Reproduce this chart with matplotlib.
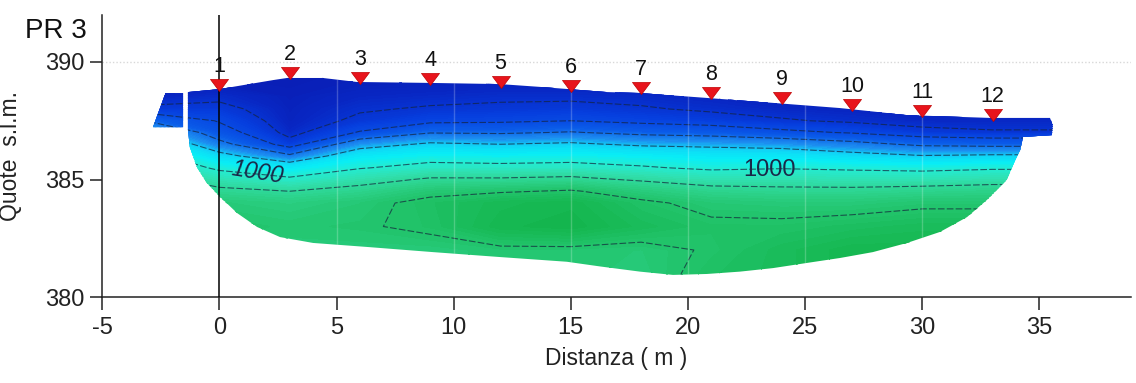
import numpy as np
import matplotlib
matplotlib.use("Agg")
import matplotlib.pyplot as plt
from matplotlib.colors import LinearSegmentedColormap, LogNorm
from matplotlib.path import Path
from matplotlib.patches import PathPatch

plt.rcParams['font.family'] = ['Liberation Sans', 'DejaVu Sans']

# ---------------- data ----------------
TITLE = 'PR 3'
X_LABEL = 'Distanza ( m )'
Y_LABEL = 'Quote  s.l.m.'
X_TICKS = [-5, 0, 5, 10, 15, 20, 25, 30, 35]
Y_TICKS = [380, 385, 390]

STATION_X = [0, 3, 6, 9, 12, 15, 18, 21, 24, 27, 30, 33]
STATION_LABELS = ['1', '2', '3', '4', '5', '6', '7', '8', '9', '10', '11', '12']
STATION_Z = [389.02, 389.53, 389.32, 389.28, 389.15, 388.98,
             388.89, 388.68, 388.47, 388.17, 387.91, 387.74]

# outline of the main section (top surface left->right, then bottom right->left)
SECTION_X = [-1.34, 0.03, 2.29, 2.89, 4.42, 5.87, 8.99, 11.98, 13.69, 16.55,
             17.95, 20.81, 23.63, 26.49, 29.35, 32.89, 35.45, 35.57, 35.53, 34.3,
             34.18, 33.97, 33.6, 33.3, 32.76, 31.91, 30.76, 29.35, 27.89, 26.49,
             25.08, 23.63, 22.22, 20.81, 19.36, 17.95, 16.25, 14.83, 11.98, 9.12,
             6.3, 4.0, 2.59, 1.61, 0.76, 0.03, -0.53, -0.96, -1.26, -1.34]
SECTION_Z = [388.72, 388.85, 389.23, 389.32, 389.32, 389.15, 389.11, 389.06, 388.94, 388.72,
             388.68, 388.47, 388.26, 388.04, 387.74, 387.62, 387.62, 387.32, 386.89, 386.81,
             386.26, 385.83, 384.98, 384.68, 384.13, 383.4, 382.77, 382.3, 381.91, 381.66,
             381.45, 381.23, 381.08, 380.98, 380.94, 381.08, 381.3, 381.5, 381.7, 381.91,
             382.13, 382.3, 382.55, 382.98, 383.57, 384.26, 384.85, 385.53, 386.38, 387.11]
# small detached block on the left
BLOCK_X = [-2.3, -1.55, -1.55, -2.83]
BLOCK_Z = [388.68, 388.68, 387.23, 387.23]

# resistivity field (ohm m): rows = elevation, cols = distance
GRID_X = [-3, 0, 3, 6, 9, 12, 15, 18, 21, 24, 27, 30, 33, 36]
GRID_Z = [389.5, 389, 388.5, 388, 387.5, 387, 386.5, 386, 385.5, 385,
          384.5, 384, 383, 382, 381, 380.5]
RHO = [
    [120, 130, 130, 140, 150, 150, 150, 150, 150, 150, 150, 150, 150, 150],
    [130, 140, 135, 145, 150, 155, 155, 150, 150, 150, 150, 150, 150, 150],
    [160, 180, 140, 165, 175, 185, 185, 175, 160, 150, 150, 150, 150, 150],
    [220, 230, 145, 190, 210, 220, 230, 210, 185, 165, 155, 150, 150, 150],
    [430, 290, 150, 220, 270, 280, 300, 270, 245, 210, 185, 165, 165, 165],
    [680, 360, 170, 310, 440, 430, 460, 410, 385, 330, 290, 230, 210, 210],
    [900, 500, 240, 560, 680, 650, 680, 620, 600, 570, 500, 420, 400, 400],
    [1100, 720, 480, 800, 880, 860, 880, 840, 800, 790, 720, 660, 680, 680],
    [1300, 940, 800, 980, 1100, 1080, 1100, 1030, 950, 980, 950, 920, 960, 960],
    [1550, 1200, 1050, 1250, 1450, 1450, 1500, 1350, 1220, 1230, 1200, 1200, 1250, 1250],
    [1750, 1500, 1400, 1550, 1850, 1950, 2050, 1750, 1550, 1500, 1500, 1550, 1600, 1600],
    [1950, 1800, 1700, 1850, 2150, 2400, 2500, 2100, 1850, 1800, 1800, 1900, 1900, 1900],
    [2100, 2000, 1900, 1950, 2100, 2500, 2600, 2300, 2100, 2100, 2200, 2300, 2300, 2300],
    [2000, 1900, 1800, 1800, 1800, 1900, 1900, 1850, 2050, 2300, 2500, 2500, 2500, 2500],
    [2000, 1900, 1800, 1800, 1800, 1900, 1900, 1800, 2150, 2300, 2500, 2500, 2500, 2500],
    [2000, 1900, 1800, 1800, 1800, 1900, 1900, 1800, 2150, 2300, 2500, 2500, 2500, 2500],
]
LINE_LEVELS = [200, 300, 450, 650, 1000, 1400, 2000]
LABEL_LEVEL = 1000
LABEL_POS = [(1.6, 385.3), (23.5, 385.4)]
LABEL_ROT = [-9, 0]
LABEL_STYLE = ['italic', 'normal']
SEAM_X = [5, 10, 15, 20, 25, 30]

# ---------------- style ----------------
CMAP_ANCHORS = [100, 160, 250, 400, 560, 700, 850, 1000, 1250, 1600, 2000, 2500, 3200]
CMAP_COLORS = ['#0a14a6', '#0826c2', '#063ede', '#0a5ae8', '#1c8cf0', '#10d4f6',
               '#08eef6', '#22ecd4', '#30e0b0', '#2cd28a', '#22c46c', '#16b852', '#0aa83c']
lo, hi = np.log10(CMAP_ANCHORS[0]), np.log10(CMAP_ANCHORS[-1])
pos = [(np.log10(v) - lo) / (hi - lo) for v in CMAP_ANCHORS]
cmap = LinearSegmentedColormap.from_list('ert', list(zip(pos, CMAP_COLORS)))
norm = LogNorm(vmin=CMAP_ANCHORS[0], vmax=CMAP_ANCHORS[-1])

W, H = 1136, 383
fig = plt.figure(figsize=(W / 100, H / 100), dpi=100)
ax = fig.add_axes([102.2 / W, 86 / H, 1028.6 / W, 282 / H])
ax.set_xlim(-5, 38.9)
ax.set_ylim(380, 392)

# clip path: main section + left block
main = np.column_stack([SECTION_X, SECTION_Z])
block = np.column_stack([BLOCK_X, BLOCK_Z])
verts = np.vstack([main, main[:1], block, block[:1]])
codes = ([Path.MOVETO] + [Path.LINETO] * (len(main) - 1) + [Path.CLOSEPOLY]
         + [Path.MOVETO] + [Path.LINETO] * (len(block) - 1) + [Path.CLOSEPOLY])
clip = PathPatch(Path(verts, codes), transform=ax.transData,
                 facecolor='none', edgecolor='none')
ax.add_patch(clip)

ax.axhline(390, color='#d8d8d8', lw=1, ls=(0, (1, 1.5)), zorder=0)

fill_levels = np.logspace(lo, hi, 90)
cf = ax.contourf(GRID_X, GRID_Z, RHO, levels=fill_levels, cmap=cmap, norm=norm,
                 extend='both', zorder=1)
cf.set_edgecolor('face')
cf.set_linewidth(0.3)
cf.set_clip_path(clip)

cl = ax.contour(GRID_X, GRID_Z, RHO, levels=LINE_LEVELS, colors='#14243c',
                linewidths=0.8, alpha=0.7, zorder=2)
cl.set_linestyle((0, (6, 2)))
cl.set_clip_path(clip)

for (lx, lz), rot, sty in zip(LABEL_POS, LABEL_ROT, LABEL_STYLE):
    ax.text(lx, lz, f'{LABEL_LEVEL}', rotation=rot, style=sty, fontsize=17,
            color='#1a2848', ha='center', va='center', zorder=3)

for sx in SEAM_X:
    ln, = ax.plot([sx, sx], [380, 391], color='white', alpha=0.22, lw=1, zorder=3)
    ln.set_clip_path(clip)

ax.axvline(0, color='black', lw=1.1, zorder=4)

tri = Path([(-1, 0.67), (1, 0.67), (0, -0.67), (-1, 0.67)],
           [Path.MOVETO, Path.LINETO, Path.LINETO, Path.CLOSEPOLY])
ax.plot(STATION_X, STATION_Z, ls='none', marker=tri, ms=13, color='#e8141c',
        mec='#c00000', mew=0.5, zorder=5, clip_on=False)
for sx, sz, lab in zip(STATION_X, STATION_Z, STATION_LABELS):
    ax.annotate(lab, (sx, sz), xytext=(0, 9.5), textcoords='offset points',
                ha='center', va='baseline', fontsize=15.5, color='#111111', zorder=6)

for s in ['top', 'right']:
    ax.spines[s].set_visible(False)
for s in ['left', 'bottom']:
    ax.spines[s].set_linewidth(1.1)
    ax.spines[s].set_color('#222222')

ax.set_xticks(X_TICKS)
ax.set_yticks(Y_TICKS)
ax.set_xticklabels([str(v) for v in X_TICKS])
ax.set_yticklabels([str(v) for v in Y_TICKS])
ax.tick_params(axis='both', direction='out', length=9, width=1.1, color='#222222',
               labelsize=17, labelcolor='#222222')
ax.tick_params(axis='x', pad=5.5)
ax.tick_params(axis='y', pad=3.5)

ax.set_xlabel(X_LABEL, fontsize=16.5, color='#222222', labelpad=6)
ax.set_ylabel(Y_LABEL, fontsize=16.5, color='#222222')
ax.yaxis.set_label_coords(-0.078, 0.5)

fig.text(25 / W, 1 - 38 / H, TITLE, fontsize=20, va='baseline', ha='left', color='#111111')

fig.savefig('out.png', dpi=100)
